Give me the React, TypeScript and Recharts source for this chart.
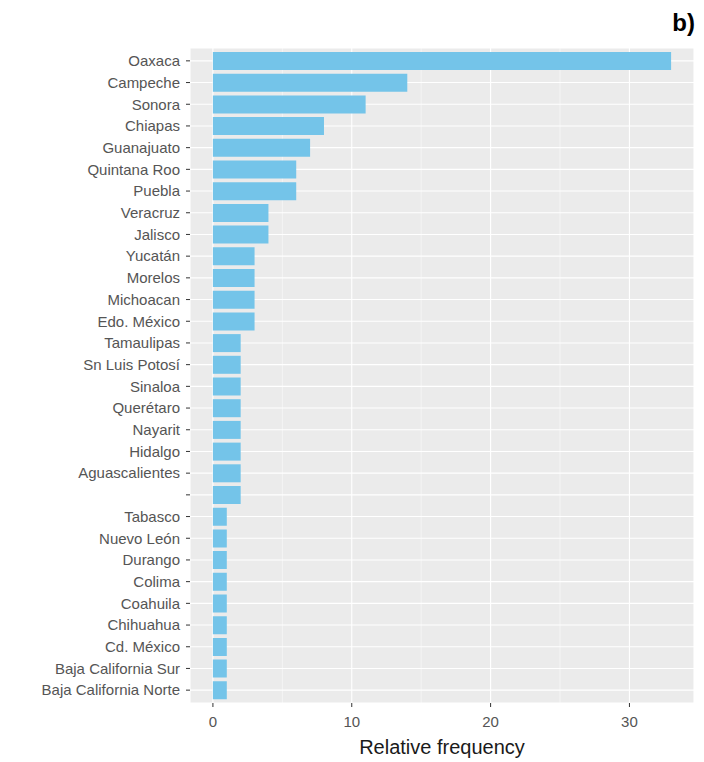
import React from "react";
import { BarChart, Bar, XAxis, YAxis, CartesianGrid } from "recharts";

const states: string[] = [
  "Oaxaca", "Campeche", "Sonora", "Chiapas", "Guanajuato", "Quintana Roo", "Puebla",
  "Veracruz", "Jalisco", "Yucatán", "Morelos", "Michoacan", "Edo. México", "Tamaulipas",
  "Sn Luis Potosí", "Sinaloa", "Querétaro", "Nayarit", "Hidalgo", "Aguascalientes", "",
  "Tabasco", "Nuevo León", "Durango", "Colima", "Coahuila", "Chihuahua", "Cd. México",
  "Baja California Sur", "Baja California Norte",
];

const frequency: number[] = [
  33, 14, 11, 8, 7, 6, 6,
  4, 4, 3, 3, 3, 3, 2,
  2, 2, 2, 2, 2, 2, 2,
  1, 1, 1, 1, 1, 1, 1,
  1, 1,
];

const xTicks: number[] = [0, 10, 20, 30];
const minorTicks: number[] = [5, 15, 25];
const xDomain: [number, number] = [-1.65, 34.65];

const data = states.map((name, i) => ({ name, value: frequency[i] }));

const FONT = "'Liberation Sans', Arial, sans-serif";

const minorGen = (args: any) => {
  const off = args.offset;
  const [lo, hi] = xDomain;
  return minorTicks.map((t) => off.left + ((t - lo) / (hi - lo)) * off.width);
};

export default function App() {
  return (
    <div style={{ position: "absolute", left: 0, top: 0, width: 704, height: 762, background: "#fff" }}>
      <div
        style={{
          position: "absolute",
          right: 9,
          top: 11,
          fontFamily: FONT,
          fontWeight: 700,
          fontSize: 24,
          lineHeight: "24px",
          color: "#000",
          zIndex: 2,
        }}
      >
        b)
      </div>
      <BarChart
        width={704}
        height={762}
        data={data}
        layout="vertical"
        margin={{ top: 48, right: 10, bottom: 0, left: 0 }}
        barSize={18}
      >
        <CartesianGrid fill="#EBEBEB" stroke="#FFFFFF" strokeWidth={1.1} />
        <CartesianGrid
          horizontal={false}
          stroke="#FFFFFF"
          strokeWidth={0.5}
          fill="none"
          verticalCoordinatesGenerator={minorGen}
        />
        <XAxis
          type="number"
          domain={xDomain}
          ticks={xTicks}
          allowDataOverflow
          axisLine={false}
          tickSize={4}
          tickLine={{ stroke: "#333333" }}
          tickMargin={9}
          tick={{ fill: "#555555", fontSize: 15, fontFamily: FONT }}
          height={59}
          label={{
            value: "Relative frequency",
            position: "insideBottom",
            offset: 8,
            fill: "#1A1A1A",
            fontSize: 20,
            fontFamily: FONT,
          }}
        />
        <YAxis
          type="category"
          dataKey="name"
          width={190}
          axisLine={false}
          tickSize={4}
          tickLine={{ stroke: "#333333" }}
          tickMargin={6}
          interval={0}
          padding={{ top: 2, bottom: 2 }}
          tick={{ fill: "#555555", fontSize: 15, fontFamily: FONT }}
        />
        <Bar dataKey="value" fill="#74C4E9" isAnimationActive={false} />
      </BarChart>
    </div>
  );
}
